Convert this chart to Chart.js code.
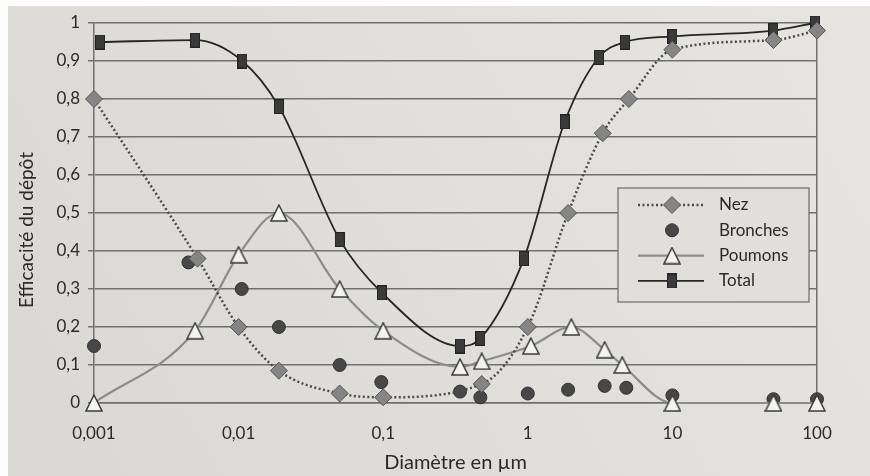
<!DOCTYPE html>
<html lang="fr">
<head>
<meta charset="UTF-8">
<title>Efficacité du dépôt</title>
<script src="https://cdn.jsdelivr.net/npm/chart.js"></script>
<style>
  html, body { margin: 0; padding: 0; background: #fff; }
  #wrap { width: 870px; height: 476px; }
</style>
</head>
<body>
<div id="wrap"><canvas id="chart" width="870" height="476"></canvas></div>
<script>
// axes
const xTicks = [0.001, 0.01, 0.1, 1, 10, 100];
const xTickLabels = ['0,001', '0,01', '0,1', '1', '10', '100'];
const yTicks = [0, 0.1, 0.2, 0.3, 0.4, 0.5, 0.6, 0.7, 0.8, 0.9, 1];
const yTickLabels = ['0', '0,1', '0,2', '0,3', '0,4', '0,5', '0,6', '0,7', '0,8', '0,9', '1'];
const yTitle = 'Efficacité du dépôt';

// séries (diamètre en µm, efficacité)
const nezX = [0.001, 0.0052, 0.01, 0.019, 0.05, 0.1, 0.48, 1, 1.9, 3.3, 5, 10, 50, 100];
const nezY = [0.80, 0.38, 0.20, 0.085, 0.025, 0.015, 0.05, 0.20, 0.50, 0.71, 0.80, 0.93, 0.955, 0.98];

const bronchesX = [0.001, 0.0045, 0.0105, 0.019, 0.05, 0.097, 0.34, 0.47, 1, 1.9, 3.4, 4.8, 10, 50, 100];
const bronchesY = [0.15, 0.37, 0.30, 0.20, 0.10, 0.055, 0.03, 0.015, 0.025, 0.035, 0.045, 0.04, 0.02, 0.01, 0.01];

const poumonsX = [0.001, 0.005, 0.01, 0.019, 0.05, 0.1, 0.34, 0.48, 1.05, 2, 3.4, 4.5, 10, 50, 100];
const poumonsY = [0, 0.19, 0.39, 0.50, 0.30, 0.19, 0.095, 0.11, 0.15, 0.20, 0.14, 0.10, 0, 0, 0];

const totalX = [0.0011, 0.005, 0.0106, 0.019, 0.05, 0.098, 0.34, 0.47, 0.94, 1.8, 3.1, 4.7, 10, 50, 97];
const totalY = [0.95, 0.955, 0.90, 0.78, 0.43, 0.29, 0.15, 0.17, 0.38, 0.74, 0.91, 0.95, 0.965, 0.98, 1.0];

const paper = '#e0dfdc';
const gridColor = '#707070';
const textColor = '#2a2a2a';
const font = 'Lato';

function pts(xs, ys) {
    return xs.map((x, i) => ({ x: x, y: ys[i] }));
}

// marqueurs rectangle (Total) et triangle (Poumons)
function rectMarker() {
    const c = document.createElement('canvas');
    c.width = 10; c.height = 15;
    const g = c.getContext('2d');
    g.fillStyle = '#3a3a3a';
    g.fillRect(0, 0, 10, 15);
    g.strokeStyle = '#222';
    g.lineWidth = 1;
    g.strokeRect(0.5, 0.5, 9, 14);
    return c;
}
function triMarker() {
    const c = document.createElement('canvas');
    c.width = 18; c.height = 18;
    const g = c.getContext('2d');
    g.beginPath();
    g.moveTo(9, 1);
    g.lineTo(17, 17);
    g.lineTo(1, 17);
    g.closePath();
    g.fillStyle = '#f3f3f1';
    g.fill();
    g.strokeStyle = '#3c3c3c';
    g.lineWidth = 1.5;
    g.stroke();
    return c;
}

const paperBg = {
    id: 'paperBg',
    beforeDraw(chart) {
        const ctx = chart.ctx;
        ctx.save();
        ctx.fillStyle = '#fdfdfd';
        ctx.fillRect(0, 0, chart.width, chart.height);
        const grad = ctx.createLinearGradient(0, chart.height, chart.width, 0);
        grad.addColorStop(0, '#d9d8d5');
        grad.addColorStop(1, '#e6e5e2');
        ctx.fillStyle = grad;
        ctx.fillRect(8, 6, chart.width - 8, chart.height - 6);
        ctx.restore();
    }
};

// titre de l'axe y, un peu plus bas que le milieu comme sur l'original
const yTitlePlugin = {
    id: 'yTitlePlugin',
    afterDraw(chart) {
        const ctx = chart.ctx;
        ctx.save();
        ctx.translate(27, 230);
        ctx.rotate(-Math.PI / 2);
        ctx.fillStyle = textColor;
        ctx.font = '19px ' + font;
        ctx.textAlign = 'center';
        ctx.textBaseline = 'middle';
        ctx.fillText(yTitle, 0, 0);
        ctx.restore();
    }
};

const legendBox = {
    id: 'legendBox',
    afterDatasetsDraw(chart) {
        const ctx = chart.ctx;
        const x0 = 618, y0 = 188, w = 191, h = 114;
        ctx.save();
        ctx.fillStyle = paper;
        ctx.fillRect(x0, y0, w, h);
        ctx.strokeStyle = '#6a6a6a';
        ctx.lineWidth = 1.2;
        ctx.strokeRect(x0, y0, w, h);
        chart.data.datasets.forEach((ds, i) => {
            const y = y0 + 17 + i * 25.3;
            if (ds.showLine !== false) {
                ctx.beginPath();
                ctx.setLineDash(ds.borderDash || []);
                ctx.strokeStyle = ds.borderColor;
                ctx.lineWidth = ds.borderWidth;
                ctx.moveTo(638, y);
                ctx.lineTo(704, y);
                ctx.stroke();
                ctx.setLineDash([]);
            }
            ctx.fillStyle = ds.pointBackgroundColor;
            ctx.strokeStyle = ds.pointBorderColor;
            ctx.lineWidth = ds.pointBorderWidth;
            Chart.helpers.drawPoint(ctx, {
                pointStyle: ds.pointStyle,
                radius: ds.pointRadius,
                borderWidth: ds.pointBorderWidth,
                rotation: 0
            }, 672, y);
            ctx.fillStyle = textColor;
            ctx.font = '17px ' + font;
            ctx.textAlign = 'left';
            ctx.textBaseline = 'middle';
            ctx.fillText(ds.label, 719, y);
        });
        ctx.restore();
    }
};

new Chart(document.getElementById('chart'), {
    type: 'line',
    data: {
        datasets: [{
            label: 'Nez',
            data: pts(nezX, nezY),
            borderColor: '#4a4a4a',
            borderWidth: 2.5,
            borderDash: [2, 2.5],
            cubicInterpolationMode: 'monotone',
            pointStyle: 'rectRot',
            pointRadius: 8.5,
            pointBackgroundColor: '#858585',
            pointBorderColor: '#555',
            pointBorderWidth: 1,
            clip: false,
            order: 0
        }, {
            label: 'Bronches',
            data: pts(bronchesX, bronchesY),
            showLine: false,
            pointStyle: 'circle',
            pointRadius: 6.5,
            pointBackgroundColor: '#474747',
            pointBorderColor: '#333',
            pointBorderWidth: 1,
            clip: false,
            order: 3
        }, {
            label: 'Poumons',
            data: pts(poumonsX, poumonsY),
            borderColor: '#8c8c8c',
            borderWidth: 2.2,
            cubicInterpolationMode: 'monotone',
            pointStyle: triMarker(),
            pointRadius: 8,
            pointBackgroundColor: '#f3f3f1',
            pointBorderColor: '#3c3c3c',
            pointBorderWidth: 1.5,
            clip: false,
            order: 1
        }, {
            label: 'Total',
            data: pts(totalX, totalY),
            borderColor: '#262626',
            borderWidth: 1.8,
            cubicInterpolationMode: 'monotone',
            pointStyle: rectMarker(),
            pointRadius: 7,
            pointBackgroundColor: '#3a3a3a',
            pointBorderColor: '#222',
            pointBorderWidth: 1,
            clip: false,
            order: 2
        }]
    },
    options: {
        responsive: false,
        devicePixelRatio: 1,
        animation: false,
        layout: { padding: { top: 23, right: 0, bottom: 0, left: 0 } },
        plugins: {
            legend: { display: false },
            tooltip: { enabled: false }
        },
        scales: {
            x: {
                type: 'logarithmic',
                min: 0.001,
                max: 100,
                afterBuildTicks: (scale) => { scale.ticks = xTicks.map(v => ({ value: v })); },
                afterFit: (scale) => { scale.height = 73; },
                grid: { display: false, drawTicks: false },
                border: { display: true, color: gridColor, width: 1.5 },
                ticks: {
                    autoSkip: false,
                    maxRotation: 0,
                    padding: 20,
                    color: textColor,
                    font: { family: font, size: 17 },
                    callback: (v) => xTickLabels[xTicks.indexOf(v)]
                },
                title: {
                    display: true,
                    text: 'Diamètre en µm',
                    color: textColor,
                    font: { family: font, size: 20 },
                    padding: { top: 0, bottom: 1 }
                }
            },
            y: {
                min: 0,
                max: 1,
                afterBuildTicks: (scale) => { scale.ticks = yTicks.map(v => ({ value: v })); },
                afterFit: (scale) => { scale.width = 94; },
                grid: { color: gridColor, lineWidth: 1.5, tickLength: 6 },
                border: { display: true, color: gridColor, width: 1.5 },
                ticks: {
                    padding: 8,
                    color: textColor,
                    font: { family: font, size: 17 },
                    callback: (v, i) => yTickLabels[i]
                }
            },
            y2: {
                position: 'right',
                min: 0,
                max: 1,
                afterFit: (scale) => { scale.width = 53; },
                grid: { drawOnChartArea: false, drawTicks: false },
                border: { display: true, color: gridColor, width: 1.5 },
                ticks: { display: false }
            }
        }
    },
    plugins: [paperBg, yTitlePlugin, legendBox]
});
</script>
</body>
</html>
